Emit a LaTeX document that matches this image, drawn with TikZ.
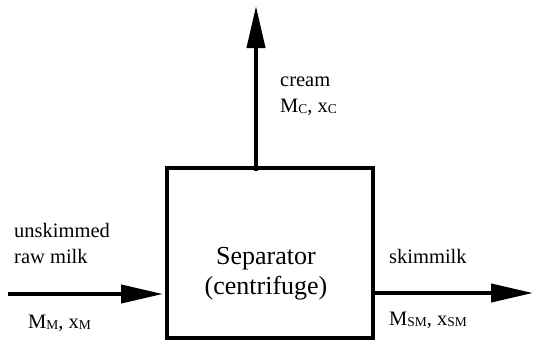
\documentclass[tikz,border=0pt]{standalone}
\usepackage{fontspec}
\setmainfont{Liberation Serif}
\usetikzlibrary{arrows.meta}
\newcommand\sbs[1]{\raisebox{-1.6pt}{\fontsize{13.5}{13.5}\selectfont #1}}
\tikzset{
  flow/.style={line width=4pt, -{Triangle[length=42pt,width=18pt]}},
  lbl/.style={anchor=base west, inner sep=0pt, font=\fontsize{20.5}{26}\selectfont},
  unit/.style={draw, line width=4pt, minimum width=206pt, minimum height=170pt, inner sep=0pt},
  unittext/.style={inner sep=0pt, align=center, font=\fontsize{26}{30}\selectfont}
}
\begin{document}
\begin{tikzpicture}[x=1pt,y=-1pt]
\useasboundingbox (0,0) rectangle (534,343);
\node[unit] (sep) at (270,253) {};
\node[unittext] (septxt) at (266,274) {Separator\\(centrifuge)};
\coordinate (inl) at (8,294);
\coordinate (outr) at (533,293);
\coordinate (ctop) at (256,6);
\draw[flow] (inl) -- ([xshift=-2pt]inl -| sep.west);
\draw[flow] (outr -| sep.east) -- (outr);
\draw[flow] ([yshift=-5pt]sep.north -| ctop) -- (ctop);
\node[lbl] (l1) at (14,237) {unskimmed};
\node[lbl] (l2) at (14,263) {raw milk};
\node[lbl] (l3) at (28,328) {M\sbs{M}, x\sbs{M}};
\node[lbl] (l4) at (280,86) {cream};
\node[lbl] (l5) at (280,112) {M\sbs{C}, x\sbs{C}};
\node[lbl] (l6) at (389,263) {skimmilk};
\node[lbl] (l7) at (389,325) {M\sbs{SM}, x\sbs{SM}};
\end{tikzpicture}
\end{document}
